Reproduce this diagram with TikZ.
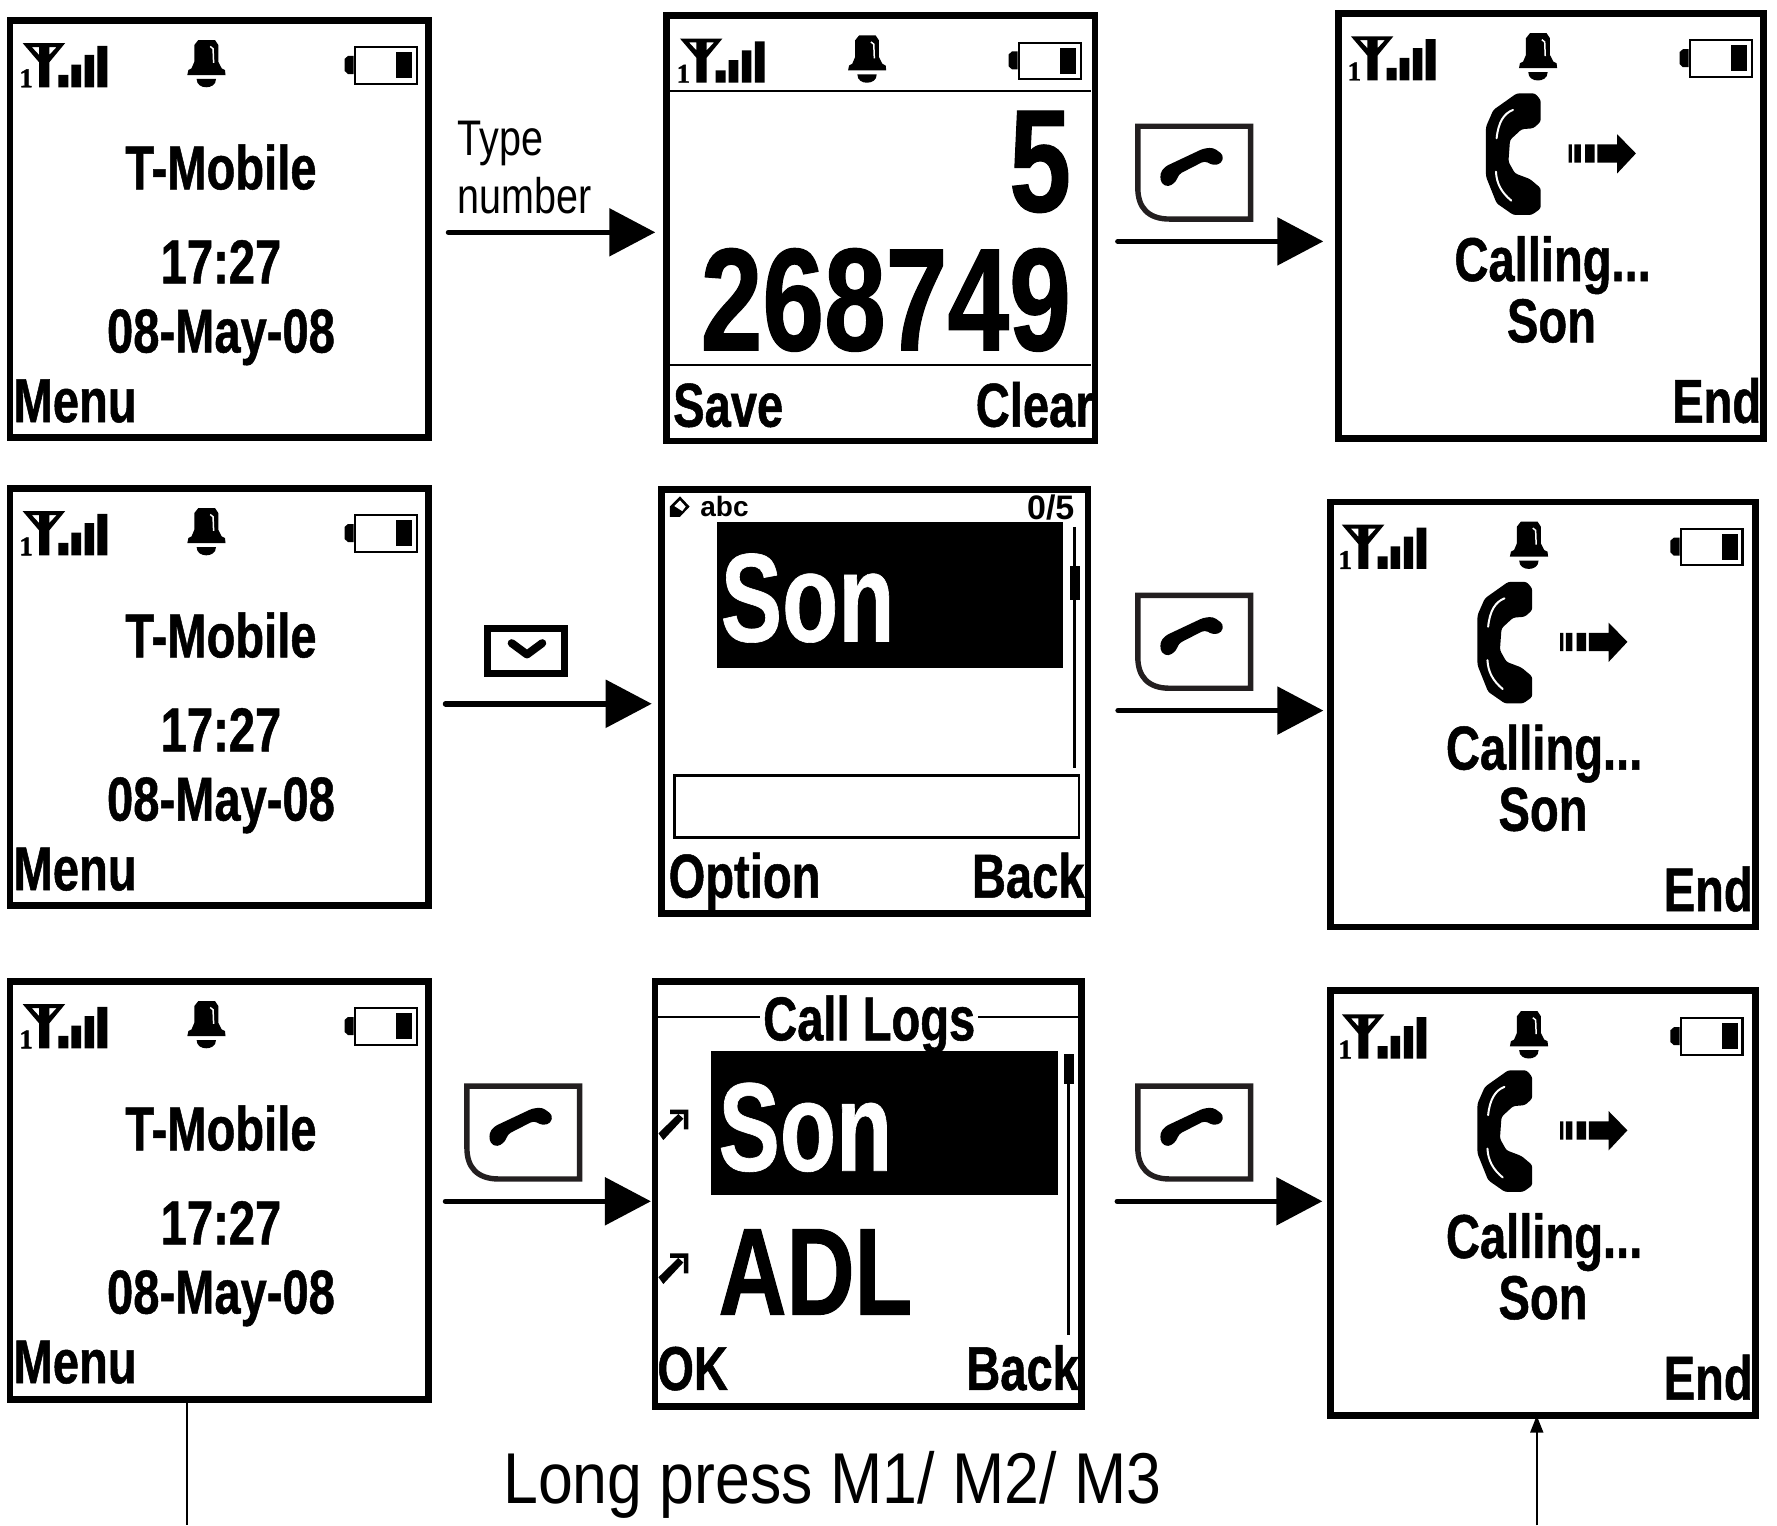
\documentclass[tikz,border=0pt]{standalone}
\usepackage{fontspec}
\usetikzlibrary{arrows.meta,fit}
\setmainfont{Liberation Sans}
\newfontfamily\lcdfam[FakeStretch=0.76,BoldFeatures={FakeBold=0.8}]{Liberation Sans}
\newfontfamily\lcdbigfam[FakeStretch=0.73,BoldFeatures={FakeBold=0.5}]{Liberation Sans}
\newfontfamily\labfam[FakeStretch=0.79]{Liberation Sans}
\newfontfamily\capfam[FakeStretch=0.87]{Liberation Sans}
\newfontfamily\oneglyph[BoldFeatures={FakeBold=1.5}]{Liberation Serif}
\newcommand\lcdf[1]{\lcdfam\bfseries\fontsize{#1}{#1}\selectfont}
\newcommand\lcdb[1]{\lcdbigfam\bfseries\fontsize{#1}{#1}\selectfont}
\definecolor{keyink}{HTML}{231F20}
\tikzset{
  scr/.style={draw=black,line width=6.5pt,inner sep=0pt,outer sep=0pt,fill=white},
  tx/.style={inner sep=0pt,outer sep=0pt,anchor=base},
  txl/.style={tx,anchor=base west},
  txr/.style={tx,anchor=base east},
  flow/.style={line width=5.5pt,line cap=round,-{Triangle[length=46pt,width=47pt]}},
  thin rule/.style={line width=2.2pt},
  keyline/.style={draw=keyink,line width=5.4pt,line join=miter,fill=white},
}
\newcommand\screen[5]{\node[scr,fit={({#2+2.9},{#3+2.9})({#4-2.9},{#5-2.9})}] (#1) {};}
% status row: name, dx antenna, dx bell, dx battery, dy
\newcommand\status[5]{%
  \begin{scope}[shift={(#2,#5)}]
    \fill[even odd rule] (20,38) -- (57.5,38) -- (43.5,55) -- (43.5,77) -- (34.5,77) -- (34.5,55) -- cycle
      (28,41.5) -- (34.5,41.5) -- (34.5,48.5) -- cycle (43.5,41.5) -- (50,41.5) -- (43.5,48.5) -- cycle;
    \fill (51.5,66) rectangle (60.3,77) (63,57) rectangle (71.5,77) (74.7,48.5) rectangle (83,77) (86,40.5) rectangle (94.7,77);
    \node[tx] (#1one) at (23,77) {\oneglyph\bfseries\fontsize{27}{27}\selectfont 1};
  \end{scope}
  \begin{scope}[shift={(#3,#5)}]
    \fill (171.5,39.7) -- (175,35.3) -- (189.7,35.3) -- (192.6,39.7) -- (192.6,54.4) -- (195.6,60.3) -- (198.5,61.8) -- (199,66.2) -- (165.3,66.2) -- (166.2,61.8) -- (169,60.3) -- (171.5,54.4) -- cycle;
    \fill (173.5,69.7) -- (190.6,69.7) .. controls (190.6,75) and (186,77) .. (182,77) .. controls (178,77) and (173.5,75) .. (173.5,69.7) -- cycle;
    \draw[white,line width=1.5pt] (185.5,41) -- (188,43) -- (188.5,55.5);
  \end{scope}
  \begin{scope}[shift={(#4,#5)}]
    \draw[line width=2.2pt,fill=white] (313,41.6) rectangle (367.6,73.8);
    \fill (349.4,46) rectangle (363.5,69);
    \fill (312,49.4) -- (307,49.4) -- (304,52) -- (304,62.5) -- (307,65.3) -- (312,65.3) -- cycle;
  \end{scope}}
\newcommand\idle[2]{%
  \begin{scope}[shift={(0,#2)}]
    \node[tx] (#1tmo) at (195,167) {\lcdf{62}T-Mobile};
    \node[tx] (#1time) at (195,250) {\lcdf{62}17:27};
    \node[tx] (#1date) at (195,311) {\lcdf{62}08-May-08};
    \node[txl] (#1menu) at (12,372.5) {\lcdf{62}Menu};
  \end{scope}}
\newcommand\calling[3]{%
  \begin{scope}[shift={(#2,#3)}]
    \fill[rounded corners=2.5pt] (1338.3,82.4) -- (1354.5,82.4) -- (1359.5,88.2) -- (1359.5,107.4) -- (1353,113.2)
      -- (1342.7,114) -- (1332.4,123.5) -- (1331,142.7) -- (1336.8,153) -- (1350,158) -- (1359.5,166) -- (1359.5,184)
      -- (1351.5,189.7) -- (1335.4,189.7) -- (1320.6,179.4) -- (1311.2,155.9) -- (1311.2,111.8) -- (1317.7,97) -- cycle;
    \draw[white,line width=2pt,line cap=round] (1335,97) .. controls (1327,100) and (1322,108) .. (1320.6,122);
    \draw[white,line width=2pt,line cap=round] (1320,151.5) .. controls (1320.5,162) and (1325,170) .. (1333.5,177);
    \fill (1384.2,127.4) rectangle (1387,143.6) (1389.2,127.4) rectangle (1395,143.6) (1398.6,127.4) rectangle (1407,143.6);
    \fill (1409.5,127.4) -- (1427,127.4) -- (1427,118.5) -- (1443.5,135.4) -- (1427,153) -- (1427,143.6) -- (1409.5,143.6) -- cycle;
    \node[tx] (#1call) at (1370,248) {\lcdf{62}Calling...};
    \node[tx] (#1son) at (1369,302) {\lcdf{62}Son};
    \node[txr] (#1end) at (1554,373) {\lcdf{62}End};
  \end{scope}}
\newcommand\callkey[2]{%
  \begin{scope}[shift={(#1,#2)}]
    \draw[keyline] (1004,111.4) -- (1103.5,111.4) -- (1103.5,193.3) -- (1032,193.3) .. controls (1013,193.3) and (1004,183) .. (1004,166) -- cycle;
    \fill[rounded corners=3.5pt] (1023.6,153) -- (1028,147) -- (1062,131) -- (1070.6,130.3) -- (1079.5,136.8) -- (1078,144) -- (1070.6,146) -- (1063,142) -- (1040,153.8) -- (1038,160) -- (1031,165) -- (1024.5,161.8) -- cycle;
  \end{scope}}
\newcommand\missedarrow[1]{%
  \begin{scope}[shift={(0,#1)}]
    \fill (581,1000) -- (585.3,1006) -- (603,987) -- (598.5,983) -- cycle;
    \fill (591.2,979) -- (607.3,979) -- (607.3,996.6) -- (603.5,996.6) -- (603.5,983) -- (591.2,983) -- cycle;
  \end{scope}}
\begin{document}
\begin{tikzpicture}[x=1.13329pt,y=-1.13329pt]
\useasboundingbox (0,0) rectangle (1568,1346);

% ---- row 1
\screen{sa}{6}{15}{381}{389}
\status{sa}{0}{0}{0}{0}
\idle{sa}{0}
\screen{sb}{585}{11}{969}{392}
\status{sb}{580}{583}{586}{-4}
\draw[thin rule] (591,80) -- (963,80) (591,322) -- (963,322);
\node[txr] (sbfive) at (945,186.5) {\lcdf{146}5};
\node[txr] (sbnum) at (945,309) {\lcdf{146}268749};
\node[txl] (sbsave) at (594,376.5) {\lcdf{62}Save};
\node[txr] (sbclear) at (965,376.5) {\lcdf{62}Clear};
\screen{sc}{1178}{9}{1559}{390}
\status{sc}{1172}{1175}{1178}{-6}
\calling{sc}{0}{0}

% ---- row 2
\screen{da}{6}{428}{381}{802}
\status{da}{0}{0}{0}{413}
\idle{da}{413}
\screen{db}{581}{429}{963}{809}
\fill (608.5,447) -- (600,438) -- (591,447) -- (591,456) -- (600,456) -- cycle;
\fill[white] (605,447) -- (600,441.5) -- (595,446.5) -- (602,451) -- cycle;
\node[txl] (dbabc) at (618,456) {\bfseries\fontsize{28}{28}\selectfont abc};
\node[txr] (dbcount) at (948,458) {\bfseries\fontsize{34}{34}\selectfont 0/5};
\fill (632.5,461) rectangle (938,589);
\node[txl,text=white] (dbson) at (636,566) {\lcdb{126}Son};
\draw[line width=3pt] (948.5,465) -- (948.5,678);
\fill (944,499) rectangle (953,529);
\draw[line width=2.8pt] (595.5,684.5) rectangle (952,739);
\node[txl] (dboption) at (590,792) {\lcdf{62}Option};
\node[txr] (dbback) at (957,792) {\lcdf{62}Back};
\screen{dc}{1171}{440}{1552}{821}
\status{dc}{1164}{1167}{1170}{425}
\calling{dc}{-7.5}{431}

% ---- row 3
\screen{ea}{6}{863}{381}{1238}
\status{ea}{0}{0}{0}{848}
\idle{ea}{848}
\screen{eb}{575}{863}{957}{1244}
\draw[thin rule] (581,897.5) -- (671,897.5) (863,897.5) -- (951,897.5);
\node[tx] (ebtitle) at (767,918) {\lcdf{62}Call Logs};
\fill (627,927) rectangle (933.5,1054);
\node[txl,text=white] (ebson) at (634,1033) {\lcdb{126}Son};
\node[txl] (ebadl) at (634,1160) {\lcdf{124}ADL};
\missedarrow{0}
\missedarrow{127}
\draw[line width=3pt] (943,930) -- (943,1178);
\fill (938.8,930) rectangle (947.6,956.6);
\node[txl] (ebok) at (580,1226.5) {\lcdf{62}OK};
\node[txr] (ebback) at (952,1226.5) {\lcdf{62}Back};
\screen{ec}{1171}{871}{1552}{1252}
\status{ec}{1164}{1167}{1170}{857}
\calling{ec}{-7.5}{862}

% ---- keys and labels on the arrows
\node[txl] (typelab) at (404,137) {\labfam\fontsize{50}{50}\selectfont Type};
\node[txl] (numlab) at (404,188) {\labfam\fontsize{50}{50}\selectfont number};
\callkey{0}{0}
\callkey{0}{414}
\callkey{-592}{847}
\callkey{0}{847}
\draw[line width=6.6pt,fill=white,line join=miter] (430,554.5) rectangle (498,594.5);
\draw[line width=8pt,line cap=round,line join=round] (451.5,567.5) -- (465,577.5) -- (478.5,567.5);

% ---- connectors
\coordinate (ya) at (0,205);
\coordinate (yb) at (0,213);
\coordinate (yc) at (0,621);
\coordinate (yd) at (0,627);
\coordinate (ye) at (0,1060);
\draw[flow,shorten <=20pt,shorten >=11pt] (sa.east |- ya) -- (sb.west |- ya);
\draw[flow,shorten <=23pt,shorten >=15pt] (sb.east |- yb) -- (sc.west |- yb);
\draw[flow,shorten <=17pt,shorten >=10pt] (da.east |- yc) -- (db.west |- yc);
\draw[flow,shorten <=30pt,shorten >=7pt] (db.east |- yd) -- (dc.west |- yd);
\draw[flow,shorten <=17pt,shorten >=4pt] (ea.east |- ye) -- (eb.west |- ye);
\draw[flow,shorten <=36pt,shorten >=8pt] (eb.east |- ye) -- (ec.west |- ye);
\coordinate (lowl) at (165,1346);
\coordinate (lowr) at (1356,1346);
\draw[line width=1.8pt,shorten <=3pt] (ea.south -| lowl) -- (lowl);
\draw[line width=1.8pt,-{Triangle[length=17pt,width=13pt]}] (lowr) -- (ec.south -| lowr);
\node[txl] (caption) at (444,1327) {\capfam\fontsize{72}{72}\selectfont Long press M1/ M2/ M3};
\end{tikzpicture}
\end{document}
